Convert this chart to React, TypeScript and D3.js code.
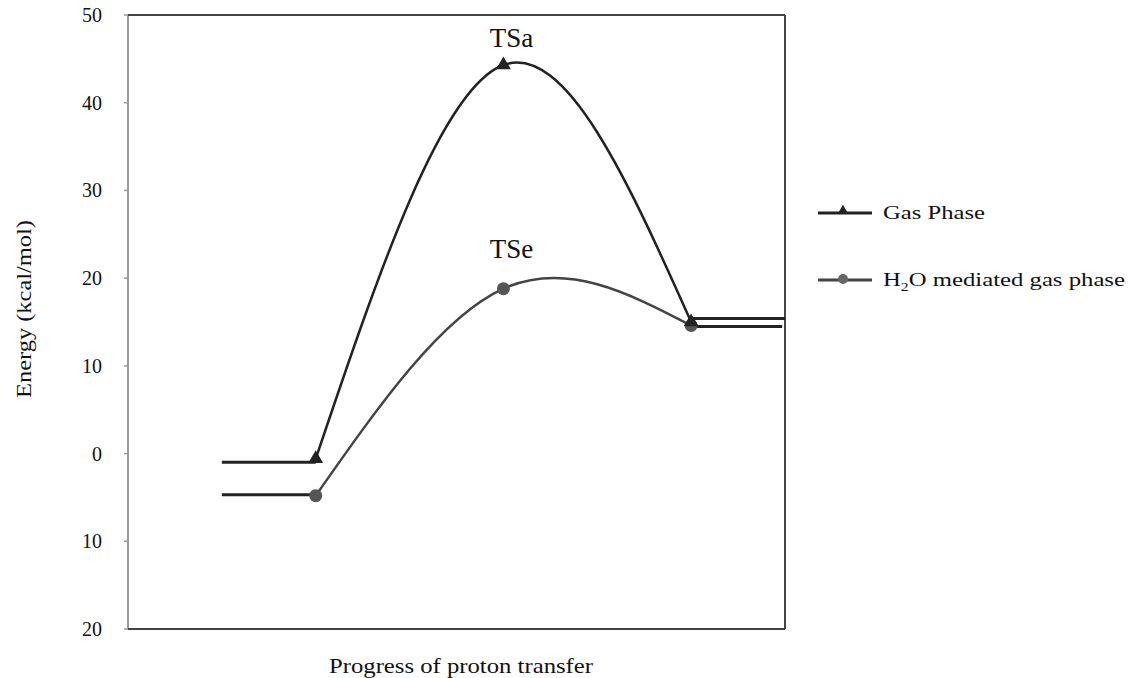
import React from "react";
import * as d3 from "d3";

const yTicks = [-20, -10, 0, 10, 20, 30, 40, 50];
const stageX = [2, 4, 6];
const gasPhase = [-0.6, 44.3, 15.0];
const waterPhase = [-4.8, 18.8, 14.6];
const gasLevels = { reactant: -1.0, product: 15.4 };
const waterLevels = { reactant: -4.7, product: 14.5 };
const reactantSpan = [1, 2];
const productSpanGas = [6, 7];
const productSpanWater = [6, 6.97];
const tsLabels = [
  { text: "TSa", x: 4, y: 44.3, dy: -18 },
  { text: "TSe", x: 4, y: 18.8, dy: -31 },
];

const W = 1129;
const H = 678;
const L = 128, R = 785, T = 15, B = 629;
const FONT = "'Liberation Serif', 'Times New Roman', Times, serif";

export default function App() {
  const x = d3.scaleLinear().domain([0, 7]).range([L, R]);
  const y = d3.scaleLinear().domain([-20, 50]).range([B, T]);
  const line = d3
    .line<[number, number]>()
    .x((d) => x(d[0]))
    .y((d) => y(d[1]))
    .curve(d3.curveNatural);
  const gasPts: [number, number][] = stageX.map((s, i) => [s, gasPhase[i]]);
  const watPts: [number, number][] = stageX.map((s, i) => [s, waterPhase[i]]);
  const tri = d3.symbol().type(d3.symbolTriangle).size(95)();
  const triSmall = d3.symbol().type(d3.symbolTriangle).size(50)();
  const flat = (span: number[], v: number) =>
    `M${x(span[0])},${y(v)}H${x(span[1])}`;

  return (
    <svg width={W} height={H} style={{ position: "absolute", left: 0, top: 0, background: "#fff" }}>
      <rect width={W} height={H} fill="#fff" />
      {/* frame */}
      <line x1={L} x2={L} y1={T} y2={B} stroke="#9a9a9a" strokeWidth={2} />
      <line x1={L} x2={R} y1={T} y2={T} stroke="#444" strokeWidth={2} />
      <line x1={R} x2={R} y1={T} y2={B} stroke="#444" strokeWidth={2} />
      <line x1={L} x2={R} y1={B} y2={B} stroke="#444" strokeWidth={2} />
      {yTicks.map((t) => (
        <g key={t}>
          <line x1={L - 4} x2={L} y1={y(t)} y2={y(t)} stroke="#9a9a9a" strokeWidth={1.5} />
          <text x={102} y={y(t) + 7} textAnchor="end" fontFamily={FONT} fontSize={20} fill="#111">
            {Math.abs(t)}
          </text>
        </g>
      ))}
      {/* flat levels */}
      <path d={flat(reactantSpan, gasLevels.reactant)} stroke="#222" strokeWidth={3} fill="none" />
      <path d={flat(reactantSpan, waterLevels.reactant)} stroke="#222" strokeWidth={3} fill="none" />
      <path d={flat(productSpanGas, gasLevels.product)} stroke="#222" strokeWidth={3} fill="none" />
      <path d={flat(productSpanWater, waterLevels.product)} stroke="#222" strokeWidth={3} fill="none" />
      {/* curves */}
      <path d={line(watPts) || ""} stroke="#444" strokeWidth={2.5} fill="none" />
      <path d={line(gasPts) || ""} stroke="#222" strokeWidth={2.5} fill="none" />
      {watPts.map((p, i) => (
        <circle key={i} cx={x(p[0])} cy={y(p[1])} r={6.5} fill="#555" />
      ))}
      {gasPts.map((p, i) => (
        <path key={i} d={tri} transform={`translate(${x(p[0])},${y(p[1])})`} fill="#222" />
      ))}
      {/* TS labels */}
      {tsLabels.map((l) => (
        <text key={l.text} x={x(l.x) + 8} y={y(l.y) + l.dy} textAnchor="middle"
          fontFamily={FONT} fontSize={27} fill="#111">
          {l.text}
        </text>
      ))}
      {/* legend */}
      <line x1={818} x2={872} y1={213} y2={213} stroke="#222" strokeWidth={3} />
      <path d={triSmall} transform="translate(843,211)" fill="#222" />
      <text x={883} y={219} fontFamily={FONT} fontSize={19} fill="#111" textLength={102} lengthAdjust="spacingAndGlyphs">
        Gas Phase
      </text>
      <line x1={818} x2={872} y1={280} y2={280} stroke="#444" strokeWidth={3} />
      <circle cx={843} cy={279} r={5} fill="#666" />
      <text x={883} y={286} fontFamily={FONT} fontSize={19} fill="#111" textLength={242} lengthAdjust="spacingAndGlyphs">
        H<tspan dy={5} fontSize={12}>2</tspan><tspan dy={-5}>O mediated gas phase</tspan>
      </text>
      {/* axis titles */}
      <text x={461} y={673} textAnchor="middle" fontFamily={FONT} fontSize={21} fill="#111" textLength={264} lengthAdjust="spacingAndGlyphs">
        Progress of proton transfer
      </text>
      <text transform="translate(31,309) rotate(-90)" textAnchor="middle" fontFamily={FONT} fontSize={21} fill="#111" textLength={178} lengthAdjust="spacingAndGlyphs">
        Energy (kcal/mol)
      </text>
    </svg>
  );
}
